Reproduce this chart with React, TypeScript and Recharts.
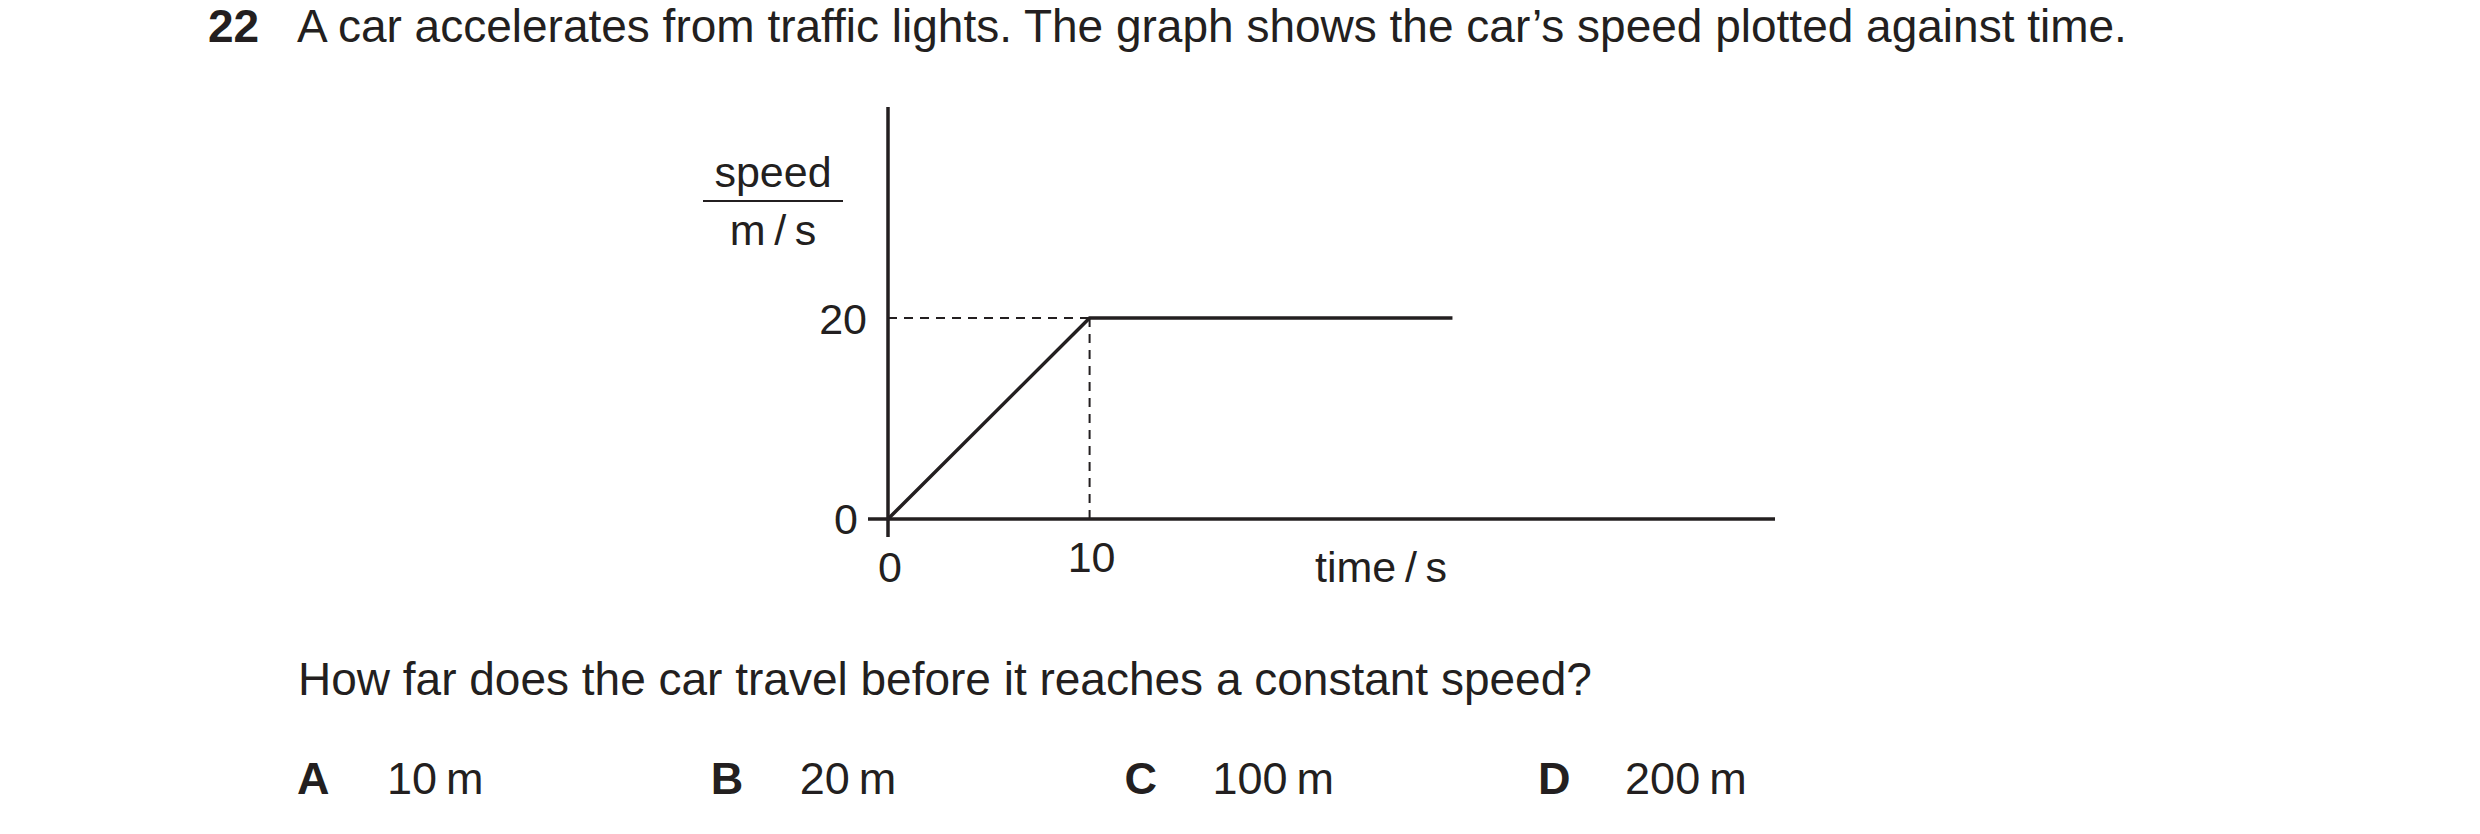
import { LineChart, Line, XAxis, YAxis, ReferenceLine } from 'recharts';

// speed-time graph values
const times = [0, 10, 28];
const speeds = [0, 20, 20];
const xTicks = [0, 10];
const yTicks = [0, 20];
const xMax = 44;
const yMax = 41;

const qNumber = '22';
const question = 'A car accelerates from traffic lights. The graph shows the car\u2019s speed plotted against time.';
const prompt = 'How far does the car travel before it reaches a constant speed?';
const optionKeys = ['A', 'B', 'C', 'D'];
const optionValues = ['10', '20', '100', '200'];

const INK = '#231f20';
const FONT = '"Liberation Sans", Arial, Helvetica, sans-serif';

const data = times.map((t, i) => ({ t, v: speeds[i] }));

function YTick({ x, y, payload }: any) {
  const zero = payload.value === 0;
  return (
    <g>
      {zero && <line x1={x - 20} x2={x} y1={y} y2={y} stroke={INK} strokeWidth={3.5} />}
      <text x={zero ? x - 30 : x - 21} y={y} dy="0.36em" textAnchor="end" fontSize={43} fill={INK} fontFamily={FONT}>
        {payload.value}
      </text>
    </g>
  );
}

function XTick({ x, y, payload }: any) {
  const zero = payload.value === 0;
  return (
    <g>
      {zero && <line x1={x} x2={x} y1={y} y2={y + 18} stroke={INK} strokeWidth={3.5} />}
      <text x={x + 2} y={zero ? y + 63 : y + 53} textAnchor="middle" fontSize={43} fill={INK} fontFamily={FONT}>
        {payload.value}
      </text>
    </g>
  );
}

function SpeedLabel({ viewBox }: any) {
  const ax = viewBox.x + viewBox.width;
  const top = viewBox.y;
  const cx = ax - 115;
  return (
    <g fontFamily={FONT} fontSize={43} fill={INK}>
      <text x={cx} y={top + 80} textAnchor="middle">speed</text>
      <line x1={ax - 185} x2={ax - 45} y1={top + 94} y2={top + 94} stroke={INK} strokeWidth={2.2} />
      <text x={cx} y={top + 138} textAnchor="middle">m{'\u2009/\u2009'}s</text>
    </g>
  );
}

function TimeLabel({ viewBox }: any) {
  return (
    <text x={viewBox.x + 493} y={viewBox.y + 63} textAnchor="middle" fontFamily={FONT} fontSize={43} fill={INK}>
      time{'\u2009/\u2009'}s
    </text>
  );
}

const txt = (left: number, top: number, size: number, bold = false): React.CSSProperties => ({
  position: 'absolute', left, top, fontSize: size, lineHeight: `${size}px`, whiteSpace: 'nowrap',
  fontWeight: bold ? 'bold' : 'normal', color: INK,
});

export default function App() {
  return (
    <div style={{ position: 'absolute', left: 0, top: 0, width: 2480, height: 834, background: '#fff', fontFamily: FONT, overflow: 'hidden' }}>
      <div style={txt(208, 3, 46, true)}>{qNumber}</div>
      <div style={txt(297, 3, 46)}>{question}</div>
      <div style={{ position: 'absolute', left: 0, top: 0 }}>
        <LineChart width={2480} height={834} data={data} margin={{ top: 107, right: 705, bottom: 215, left: 688 }}>
          <XAxis dataKey="t" type="number" domain={[0, xMax]} ticks={xTicks} allowDataOverflow
            axisLine={{ stroke: INK, strokeWidth: 3.5 }} tickLine={false} tickSize={0} tickMargin={0} height={100}
            tick={<XTick />} label={{ content: (p: any) => <TimeLabel {...p} /> }} />
          <YAxis type="number" domain={[0, yMax]} ticks={yTicks} allowDataOverflow
            axisLine={{ stroke: INK, strokeWidth: 3.5 }} tickLine={false} tickSize={0} tickMargin={0} width={200}
            tick={<YTick />} label={{ content: (p: any) => <SpeedLabel {...p} /> }} />
          <ReferenceLine segment={[{ x: 0, y: 20 }, { x: 10, y: 20 }]} stroke={INK} strokeWidth={2} strokeDasharray="9 7" />
          <ReferenceLine segment={[{ x: 10, y: 20 }, { x: 10, y: 0 }]} stroke={INK} strokeWidth={2} strokeDasharray="9 7" />
          <Line type="linear" dataKey="v" stroke={INK} strokeWidth={3.5} dot={false} activeDot={false} isAnimationActive={false} />
        </LineChart>
      </div>
      <div style={txt(298, 656, 46)}>{prompt}</div>
      {optionKeys.map((k, i) => (
        <div key={k}>
          <div style={txt(297 + i * 413.7, 756, 45, true)}>{k}</div>
          <div style={txt(387 + i * 412.7, 756, 45)}>{optionValues[i]}{'\u2009'}m</div>
        </div>
      ))}
    </div>
  );
}
